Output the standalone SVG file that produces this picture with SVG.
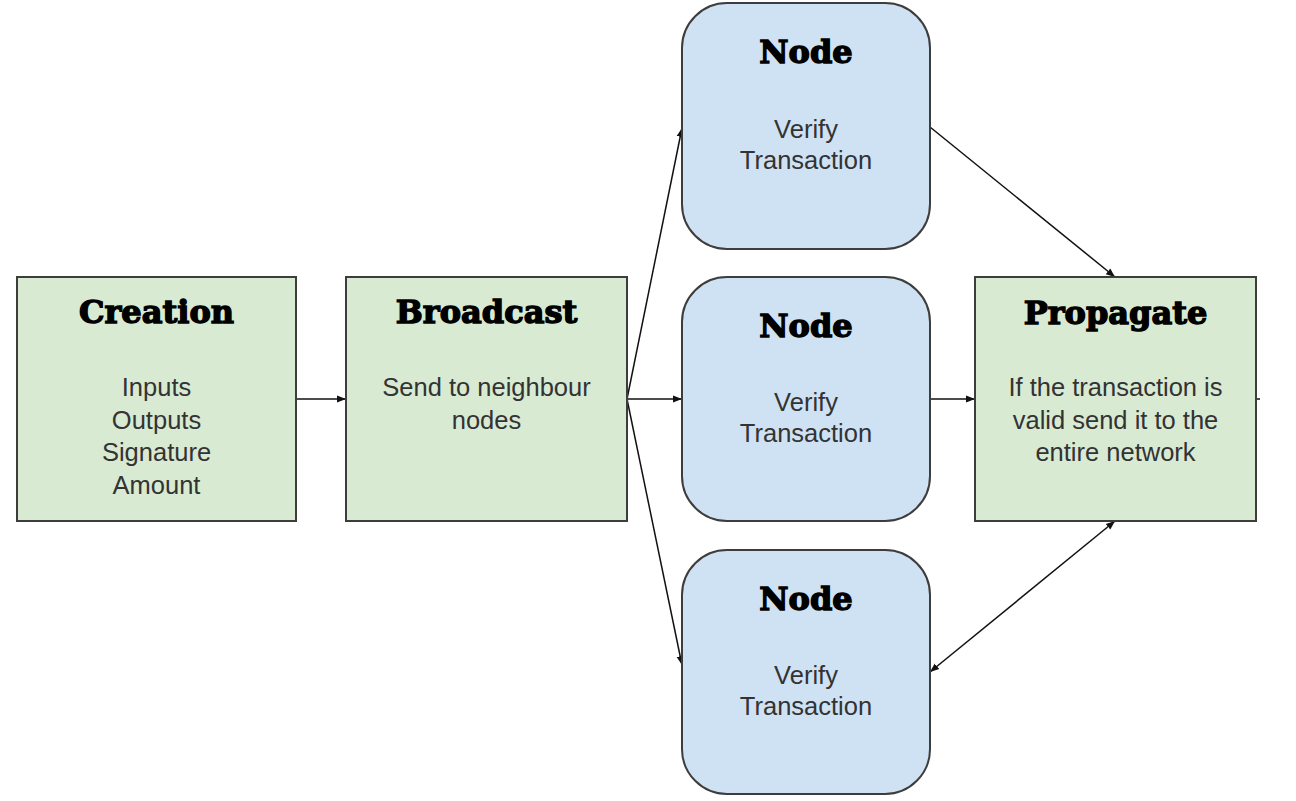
<svg xmlns="http://www.w3.org/2000/svg" width="1296" height="801" viewBox="0 0 1296 801">
<style>
.g{fill:#d9ead3;stroke:#3d3d3d;stroke-width:2}
.b{fill:#cfe2f3;stroke:#3d3d3d;stroke-width:2}
.t{font-family:"DejaVu Serif",serif;font-weight:900;font-size:32px;fill:#000;text-anchor:middle;stroke:#000;stroke-width:1.4}
.x{font-family:"Liberation Sans",Arial,sans-serif;font-size:25.5px;fill:#333;text-anchor:middle}
.c{stroke:#111;stroke-width:1.5;fill:none}
</style>
<defs>
<marker id="ah" viewBox="0 0 10 10" refX="10" refY="5" markerWidth="9" markerHeight="9" orient="auto-start-reverse" markerUnits="userSpaceOnUse">
<path d="M0,1 L10,5 L0,9 Z" fill="#111"/>
</marker>
</defs>
<rect width="1296" height="801" fill="#fff"/>
<g id="connectors">
<line class="c" x1="296" y1="399" x2="346" y2="399" marker-end="url(#ah)"/>
<line class="c" x1="627" y1="399" x2="682" y2="128" marker-end="url(#ah)"/>
<line class="c" x1="627" y1="399" x2="682" y2="399" marker-end="url(#ah)"/>
<line class="c" x1="627" y1="399" x2="682" y2="665" marker-end="url(#ah)"/>
<line class="c" x1="930" y1="127" x2="1115" y2="277" marker-end="url(#ah)"/>
<line class="c" x1="930" y1="399" x2="975" y2="399" marker-end="url(#ah)"/>
<line class="c" x1="1115" y1="521" x2="930" y2="672" marker-start="url(#ah)" marker-end="url(#ah)"/>
<line class="c" x1="1256" y1="399" x2="1260" y2="399"/>
</g>
<g id="creation">
<rect class="g" x="17" y="277" width="279" height="244"/>
<text class="t" x="156.5" y="323">Creation</text>
<text class="x" x="156.5" y="396">Inputs</text>
<text class="x" x="156.5" y="429">Outputs</text>
<text class="x" x="156.5" y="461">Signature</text>
<text class="x" x="156.5" y="494">Amount</text>
</g>
<g id="broadcast">
<rect class="g" x="346" y="277" width="281" height="244"/>
<text class="t" x="486.5" y="323">Broadcast</text>
<text class="x" x="486.5" y="396">Send to neighbour</text>
<text class="x" x="486.5" y="429">nodes</text>
</g>
<g id="node1">
<rect class="b" x="682" y="3" width="248" height="246" rx="45"/>
<text class="t" x="806" y="63">Node</text>
<text class="x" x="806" y="138">Verify</text>
<text class="x" x="806" y="169">Transaction</text>
</g>
<g id="node2">
<rect class="b" x="682" y="277" width="248" height="244" rx="45"/>
<text class="t" x="806" y="337">Node</text>
<text class="x" x="806" y="411">Verify</text>
<text class="x" x="806" y="442">Transaction</text>
</g>
<g id="node3">
<rect class="b" x="682" y="550" width="248" height="244" rx="45"/>
<text class="t" x="806" y="610">Node</text>
<text class="x" x="806" y="684">Verify</text>
<text class="x" x="806" y="715">Transaction</text>
</g>
<g id="propagate">
<rect class="g" x="975" y="277" width="281" height="244"/>
<text class="t" x="1115.5" y="324">Propagate</text>
<text class="x" x="1115.5" y="396">If the transaction is</text>
<text class="x" x="1115.5" y="429">valid send it to the</text>
<text class="x" x="1115.5" y="461">entire network</text>
</g>
</svg>
